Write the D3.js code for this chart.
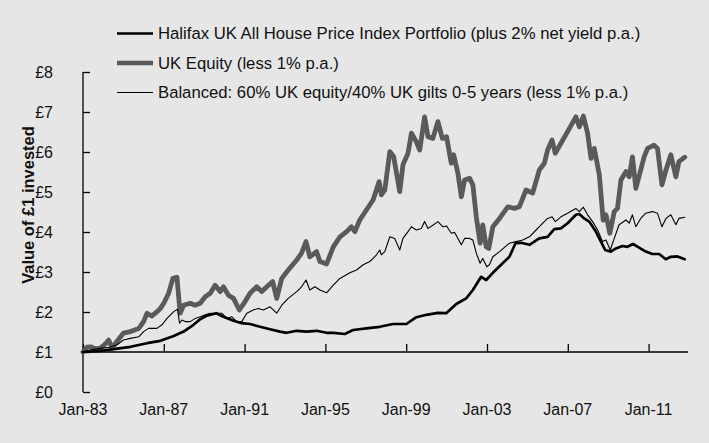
<!DOCTYPE html>
<html><head><meta charset="utf-8">
<script src="https://cdn.jsdelivr.net/npm/d3@7"></script>
<style>
html,body{margin:0;padding:0;background:#e6e6e6;}
svg{display:block;font-family:"Liberation Sans",Arial,Helvetica,sans-serif;}
</style></head>
<body>
<svg id="chart" width="709" height="443"></svg>
<script>
// ---- data (decimal year, value of £1) ----
const seriesNames = [
  "Halifax UK All House Price Index Portfolio (plus 2% net yield p.a.)",
  "UK Equity (less 1% p.a.)",
  "Balanced: 60% UK equity/40% UK gilts 0-5 years (less 1% p.a.)"
];
const halifax = [
[1983.0,1.00],[1983.86,1.03],[1984.52,1.07],[1985.35,1.13],[1986.17,1.22],[1986.83,1.28],[1987.49,1.40],[1987.98,1.51],
[1988.47,1.68],[1988.8,1.82],[1989.13,1.91],[1989.46,1.95],[1989.6,1.97],[1989.95,1.88],[1990.45,1.78],[1990.86,1.72],
[1991.27,1.70],[1991.77,1.63],[1992.26,1.57],[1992.75,1.51],[1993.08,1.48],[1993.58,1.53],[1994.07,1.51],[1994.56,1.53],
[1995.06,1.48],[1995.39,1.48],[1995.96,1.45],[1996.37,1.55],[1997.03,1.59],[1997.69,1.63],[1998.35,1.70],[1999.01,1.70],
[1999.5,1.87],[2000.0,1.93],[2000.57,1.98],[2000.98,1.97],[2001.48,2.20],[2001.97,2.34],[2002.3,2.55],[2002.71,2.88],
[2002.96,2.80],[2003.29,2.98],[2003.7,3.18],[2004.11,3.38],[2004.41,3.72],[2004.69,3.73],[2005.1,3.68],[2005.59,3.84],
[2006.0,3.88],[2006.33,4.07],[2006.66,4.09],[2006.99,4.22],[2007.4,4.43],[2007.57,4.45],[2007.81,4.34],[2008.06,4.26],
[2008.39,4.01],[2008.64,3.76],[2008.85,3.55],[2009.13,3.51],[2009.38,3.59],[2009.71,3.65],[2009.95,3.63],[2010.23,3.70],
[2010.53,3.61],[2010.86,3.51],[2011.19,3.45],[2011.52,3.45],[2011.85,3.32],[2012.1,3.38],[2012.43,3.39],[2012.79,3.32]
];
const equity = [
[1983.0,1.00],[1983.2,1.12],[1983.37,1.13],[1983.6,1.08],[1983.86,1.10],[1984.1,1.20],[1984.27,1.30],[1984.44,1.10],
[1984.7,1.28],[1985.0,1.47],[1985.35,1.51],[1985.76,1.59],[1986.0,1.76],[1986.17,1.97],[1986.4,1.90],[1986.58,1.97],
[1986.83,2.09],[1987.0,2.22],[1987.24,2.47],[1987.45,2.84],[1987.65,2.87],[1987.81,1.97],[1987.98,2.17],[1988.31,2.22],
[1988.55,2.17],[1988.8,2.22],[1989.05,2.38],[1989.3,2.47],[1989.54,2.67],[1989.79,2.51],[1989.95,2.63],[1990.2,2.42],
[1990.45,2.34],[1990.74,2.05],[1991.02,2.26],[1991.27,2.47],[1991.6,2.63],[1991.85,2.51],[1992.1,2.63],[1992.39,2.76],
[1992.59,2.34],[1992.84,2.84],[1993.16,3.05],[1993.58,3.30],[1993.82,3.47],[1994.04,3.76],[1994.23,3.38],[1994.56,3.51],
[1994.73,3.26],[1995.06,3.20],[1995.39,3.63],[1995.72,3.88],[1996.05,4.01],[1996.29,4.13],[1996.46,4.01],[1996.7,4.30],
[1997.03,4.55],[1997.36,4.80],[1997.66,5.26],[1997.77,4.93],[1997.94,5.05],[1998.19,6.01],[1998.38,5.88],[1998.68,5.01],
[1998.84,5.68],[1999.09,5.97],[1999.26,6.47],[1999.5,6.26],[1999.67,6.05],[1999.91,6.88],[2000.08,6.38],[2000.32,6.34],
[2000.57,6.76],[2000.79,6.34],[2001.0,6.38],[2001.23,5.72],[2001.35,5.93],[2001.56,5.47],[2001.73,4.88],[2001.89,5.30],
[2002.14,5.34],[2002.3,5.18],[2002.47,4.38],[2002.66,3.72],[2002.79,4.18],[2002.96,3.63],[2003.09,3.59],[2003.29,4.13],
[2003.62,4.34],[2004.03,4.63],[2004.36,4.59],[2004.6,4.63],[2004.93,5.05],[2005.26,4.97],[2005.59,5.55],[2005.84,5.72],
[2006.0,6.05],[2006.22,6.30],[2006.38,5.97],[2006.66,6.22],[2006.99,6.51],[2007.4,6.88],[2007.57,6.63],[2007.77,6.90],
[2007.98,6.47],[2008.15,5.84],[2008.31,6.09],[2008.56,5.43],[2008.75,4.30],[2008.89,4.43],[2009.08,3.97],[2009.3,4.51],
[2009.46,4.59],[2009.63,5.30],[2009.88,5.51],[2010.04,5.38],[2010.2,5.88],[2010.37,5.09],[2010.61,5.55],[2010.78,5.88],
[2010.95,6.09],[2011.27,6.17],[2011.44,6.09],[2011.66,5.18],[2011.86,5.55],[2012.1,5.93],[2012.35,5.38],[2012.5,5.76],
[2012.79,5.87]
];
const balanced = [
[1983.0,1.00],[1983.37,1.05],[1983.86,1.09],[1984.3,1.12],[1984.69,1.18],[1985.0,1.30],[1985.35,1.34],[1985.76,1.38],
[1986.0,1.51],[1986.25,1.59],[1986.66,1.59],[1986.91,1.68],[1987.16,1.84],[1987.49,2.01],[1987.68,2.07],[1987.78,1.72],
[1987.9,1.80],[1988.06,1.76],[1988.31,1.76],[1988.56,1.84],[1988.8,1.88],[1989.05,1.93],[1989.3,1.97],[1989.54,1.97],
[1989.87,1.97],[1990.12,1.84],[1990.37,1.88],[1990.61,1.76],[1990.86,1.76],[1991.11,1.97],[1991.43,2.05],[1991.68,2.09],
[1991.93,2.05],[1992.26,2.13],[1992.59,1.97],[1992.84,2.17],[1993.16,2.34],[1993.58,2.51],[1993.82,2.63],[1994.04,2.80],
[1994.23,2.55],[1994.48,2.63],[1994.73,2.55],[1995.06,2.48],[1995.39,2.67],[1995.72,2.84],[1996.21,2.98],[1996.54,3.05],
[1996.87,3.18],[1997.2,3.26],[1997.53,3.43],[1997.69,3.55],[1997.77,3.43],[1997.94,3.51],[1998.19,3.88],[1998.43,3.84],
[1998.68,3.55],[1998.84,3.84],[1999.09,4.01],[1999.26,4.13],[1999.5,4.05],[1999.75,4.09],[1999.91,4.26],[2000.08,4.09],
[2000.32,4.17],[2000.57,4.26],[2000.82,4.13],[2001.0,4.15],[2001.23,3.97],[2001.4,3.99],[2001.56,3.84],[2001.73,3.68],
[2001.89,3.84],[2002.14,3.84],[2002.3,3.80],[2002.47,3.47],[2002.66,3.22],[2002.79,3.34],[2002.99,3.13],[2003.12,3.18],
[2003.29,3.38],[2003.62,3.51],[2004.11,3.72],[2004.44,3.76],[2004.77,3.80],[2005.1,3.88],[2005.43,4.05],[2005.76,4.22],
[2006.0,4.34],[2006.22,4.38],[2006.38,4.26],[2006.66,4.38],[2006.99,4.47],[2007.4,4.59],[2007.57,4.51],[2007.77,4.62],
[2007.98,4.43],[2008.23,4.26],[2008.48,4.05],[2008.72,3.76],[2008.89,3.80],[2009.1,3.55],[2009.3,3.84],[2009.54,4.18],
[2009.88,4.30],[2010.04,4.22],[2010.2,4.43],[2010.37,4.13],[2010.61,4.34],[2010.86,4.47],[2011.19,4.51],[2011.44,4.47],
[2011.66,4.13],[2011.86,4.34],[2012.1,4.43],[2012.35,4.18],[2012.5,4.34],[2012.79,4.37]
];
const xTickYears = [1983, 1987, 1991, 1995, 1999, 2003, 2007, 2011];
const xTickLabels = ["Jan-83","Jan-87","Jan-91","Jan-95","Jan-99","Jan-03","Jan-07","Jan-11"];
const yTickValues = [0,1,2,3,4,5,6,7,8];
const yTitle = "Value of £1 invested";

// ---- drawing ----
const svg = d3.select("#chart");
const x = d3.scaleLinear().domain([1983, 2013]).range([83, 689]);
const y = d3.scaleLinear().domain([0, 8]).range([392, 72]);
const axisColor = "#000";

// y axis (ticks inward)
const yAxis = svg.append("g").attr("transform", `translate(${x(1983)},0)`)
  .call(d3.axisRight(y).tickValues(yTickValues).tickSize(7).tickFormat(() => ""));
yAxis.select(".domain").attr("d", `M0,${y(0)}V${y(8)}`).attr("stroke", axisColor).attr("stroke-width", 1.3);
yAxis.selectAll(".tick line").attr("stroke", axisColor).attr("stroke-width", 1.3);

svg.append("g").selectAll("text").data(yTickValues).join("text")
  .attr("x", 53).attr("y", d => y(d)).attr("dy", "0.35em")
  .attr("text-anchor", "end").attr("font-size", 16).attr("fill", "#111")
  .text(d => "£" + d);

// x axis at y = £1, ticks upward
const xAxis = svg.append("g").attr("transform", `translate(0,${y(1)})`)
  .call(d3.axisTop(x).tickValues(xTickYears).tickSize(8).tickFormat(() => ""));
xAxis.select(".domain").attr("d", `M${x(1983)},0H${x(2012.95)}`).attr("stroke", axisColor).attr("stroke-width", 1.3);
xAxis.selectAll(".tick line").attr("stroke", axisColor).attr("stroke-width", 1.3);

svg.append("g").selectAll("text").data(xTickYears).join("text")
  .attr("x", d => x(d)).attr("y", 409).attr("dy", "0.35em")
  .attr("text-anchor", "middle").attr("font-size", 16).attr("fill", "#111")
  .text((d, i) => xTickLabels[i]);

// y title
svg.append("text").attr("transform", `translate(28,205) rotate(-90)`)
  .attr("text-anchor", "middle").attr("dy", "0.35em")
  .attr("font-size", 16.5).attr("font-weight", "bold").attr("fill", "#111")
  .text(yTitle);

// lines
const line = d3.line().x(d => x(d[0])).y(d => y(d[1]));
const styles = [
  {data: equity,   color: "#5a5a5a", width: 4.8},
  {data: balanced, color: "#000",    width: 1.1},
  {data: halifax,  color: "#000",    width: 2.7}
];
svg.append("g").selectAll("path").data(styles).join("path")
  .attr("d", d => line(d.data)).attr("fill", "none")
  .attr("stroke", d => d.color).attr("stroke-width", d => d.width)
  .attr("stroke-linejoin", "round").attr("stroke-linecap", "round");

// legend
const legendItems = [
  {name: seriesNames[0], color: "#000", width: 2.6},
  {name: seriesNames[1], color: "#5a5a5a", width: 4.5},
  {name: seriesNames[2], color: "#000", width: 1.1}
];
const legendY = d3.scalePoint().domain(d3.range(3)).range([33.5, 92.5]);
const lg = svg.append("g").selectAll("g").data(legendItems).join("g")
  .attr("transform", (d, i) => `translate(0,${legendY(i)})`);
lg.append("line").attr("x1", 117).attr("x2", 153)
  .attr("stroke", d => d.color).attr("stroke-width", d => d.width);
lg.append("text").attr("x", 158).attr("dy", "0.35em")
  .attr("font-size", 16.7).attr("fill", "#111").text(d => d.name);
</script>
</body></html>
